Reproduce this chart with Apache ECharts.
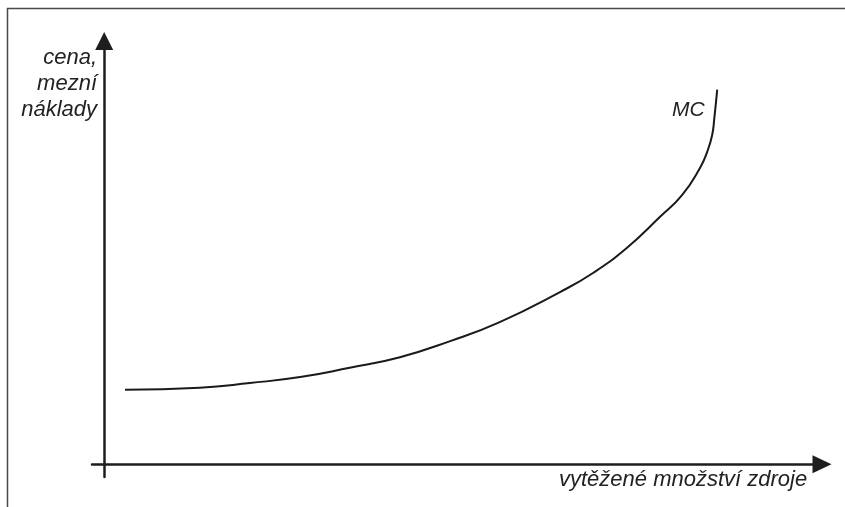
<!DOCTYPE html>
<html>
<head>
<meta charset="utf-8">
<script src="https://cdn.jsdelivr.net/npm/echarts@6/dist/echarts.min.js"></script>
<style>
  html, body { margin: 0; padding: 0; background: #fff; }
  #chart { width: 845px; height: 507px; }
</style>
</head>
<body>
<div id="chart"></div>
<script>
// množství zdroje (osa x) a mezní náklady (osa y)
var mnozstvi = [2.9, 13.3, 20.3, 27.3, 34.2, 41.2, 48.2, 55.1, 63.5, 68.1, 72.8, 77.4, 80.5, 83.0, 84.0, 84.7, 85.0, 85.4];
var mezniNaklady = [17.6, 18.1, 19.2, 20.6, 22.8, 25.3, 29.1, 33.6, 40.7, 45.2, 51.1, 58.4, 63.6, 70.0, 73.8, 77.8, 81.8, 88.5];

var popisY = 'cena,\nmezní\nnáklady';
var popisX = 'vytěžené množství zdroje';
var popisKrivky = 'MC';

var body = mnozstvi.map(function (x, i) { return [x, mezniNaklady[i]]; });

var font = '"Liberation Sans", Arial, sans-serif';
var myChart = echarts.init(document.getElementById('chart'));

var option = {
  backgroundColor: '#fff',
  animation: false,
  grid: { left: 92, right: 23, top: 41, bottom: 30 },
  xAxis: {
    type: 'value',
    min: -1.7,
    max: 100,
    axisLine: {
      onZero: true,
      symbol: ['none', 'triangle'],
      symbolSize: [18, 19], // šířka, délka šipky
      lineStyle: { color: '#1e1e1e', width: 2.5 }
    },
    axisTick: { show: false },
    axisLabel: { show: false },
    splitLine: { show: false }
  },
  yAxis: {
    type: 'value',
    min: -3,
    max: 100,
    axisLine: {
      onZero: true,
      symbol: ['none', 'triangle'],
      symbolSize: [18, 18],
      lineStyle: { color: '#1e1e1e', width: 2.5 }
    },
    axisTick: { show: false },
    axisLabel: { show: false },
    splitLine: { show: false }
  },
  series: [{
    name: popisKrivky,
    type: 'line',
    data: body,
    smooth: 0.5,
    showSymbol: false,
    lineStyle: { color: '#1a1a1a', width: 2 }
  }],
  graphic: [
    { // rámeček
      type: 'polyline',
      shape: { points: [[7.5, 507], [7.5, 8.5], [845, 8.5]] },
      style: { stroke: '#4a4a4a', lineWidth: 1.5, fill: null }
    },
    {
      type: 'text',
      x: 97, y: 45,
      style: {
        text: popisY,
        font: 'italic 22px ' + font,
        fill: '#222',
        textAlign: 'right',
        lineHeight: 26
      }
    },
    {
      type: 'text',
      x: 559, y: 480,
      style: {
        text: popisX,
        font: 'italic 22px ' + font,
        fill: '#222',
        textAlign: 'left',
        textVerticalAlign: 'middle'
      }
    },
    {
      type: 'text',
      x: 672, y: 110,
      style: {
        text: popisKrivky,
        font: 'italic 21px ' + font,
        fill: '#222',
        textAlign: 'left',
        textVerticalAlign: 'middle'
      }
    }
  ]
};

myChart.setOption(option);
</script>
</body>
</html>
